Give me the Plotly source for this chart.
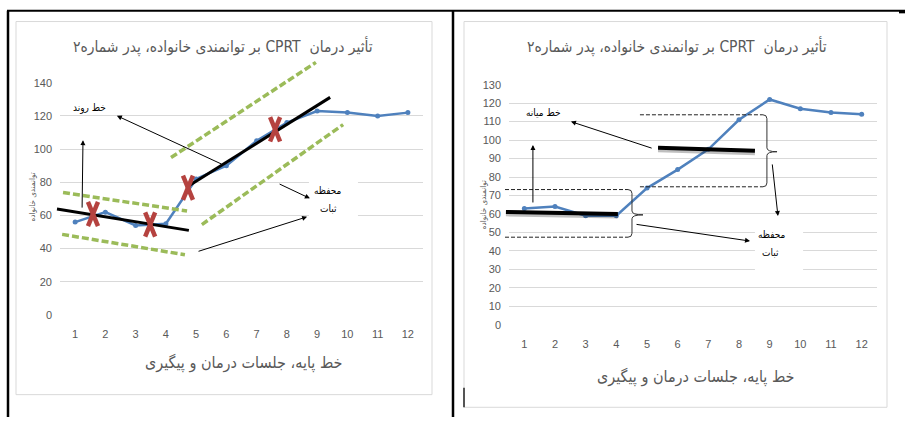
import plotly.graph_objects as go

W, H = 905, 423

# ---------------- data ----------------
sessions = list(range(1, 13))
tick_labels = [str(s) for s in sessions]
left_values = [56, 62, 54, 55, 82, 90, 105, 116, 123, 122, 120, 122]
right_values = [63, 64, 59, 59, 74, 84, 95, 111, 122, 117, 115, 114]
left_yticks = list(range(0, 141, 20))
right_yticks = list(range(0, 131, 10))

title_text = "\u202Bتأثیر درمان  CPRT بر توانمندی خانواده، پدر شماره۲\u202C"
xtitle_text = "خط پایه، جلسات درمان و پیگیری"
ytitle_text = "توانمندی خانواده"
trend_label = "خط روند"
median_label = "خط میانه"
envelope_line1 = "محفظه"
envelope_line2 = "ثبات"

# hand-drawn overlay geometry, in (session, value) units of each panel
left_trend_lines = [((0.40, 63.9), (4.76, 51.0)), ((4.76, 77.9), (9.43, 131.2))]
left_envelopes = [((0.60, 73.8), (4.70, 62.7)), ((0.57, 48.6), (4.63, 36.3)),
                  ((4.17, 94.9), (8.96, 152.3)), ((5.19, 54.5), (9.86, 114.8))]
left_crosses = [(1.59, 60.9), (3.48, 54.5), (4.73, 76.7), (7.61, 111.9)]
left_arrows = [((1.23, 65.0), (1.26, 105.4)), ((5.89, 91.4), (2.38, 120.1)),
               ((7.71, 79.1), (8.76, 70.3)), ((5.03, 38.7), (8.67, 59.2))]
left_trend_label_pos = (1.46, 124.8)
left_env_label_pos = [(9.36, 75.0), (9.36, 64.4)]
left_label_box = ((8.73, 83.2), (10.35, 56.2))

right_median_lines = [((0.40, 61.1), (4.05, 60.0)), ((5.36, 95.8), (8.52, 94.2))]
# x_start, x_brace, x_tip, v_top, v_mid, v_bot
right_brackets = [(0.37, 4.51, 4.87, 73.2, 59.5, 47.4), (4.77, 8.91, 9.24, 113.7, 93.7, 74.7)]
right_arrows = [((1.28, 66.3), (1.28, 97.4)), ((5.20, 95.8), (2.52, 110.0)),
                ((9.08, 86.8), (9.27, 58.9)), ((4.61, 54.2), (8.36, 45.3))]
right_median_label_pos = (1.64, 114.7)
right_env_label_pos = [(9.08, 48.9), (9.04, 38.9)]
right_label_box = ((8.52, 55.8), (10.09, 26.8))

# ---------------- layout geometry ----------------
panels = {
    "L": dict(xa="x", ya="y", dom_x=(60 / W, 423 / W), dom_y=(1 - 318 / H, 1 - 79 / H),
              xr=(0.5, 12.5), yr=(0, 140)),
    "R": dict(xa="x2", ya="y2", dom_x=(509 / W, 877 / W), dom_y=(1 - 328 / H, 1 - 81 / H),
              xr=(0.5, 12.5), yr=(0, 130)),
}


def P(panel, x, v):
    p = panels[panel]
    dx0, dx1 = p["dom_x"]
    dy0, dy1 = p["dom_y"]
    xr0, xr1 = p["xr"]
    yr0, yr1 = p["yr"]
    return (dx0 + (x - xr0) / (xr1 - xr0) * (dx1 - dx0),
            dy0 + (v - yr0) / (yr1 - yr0) * (dy1 - dy0))


def px(x, y):
    return x / W, 1 - y / H


GRAY = "#595959"
GRID = "#d9d9d9"
BLUE = "#4f81bd"
FA_FONT = "DejaVu Sans Condensed, DejaVu Sans, sans-serif"
NUM_FONT = "Liberation Sans Narrow, Liberation Sans, Arial, sans-serif"

fig = go.Figure()
fig.add_trace(go.Scatter(x=sessions, y=left_values, xaxis="x", yaxis="y", mode="lines+markers",
                         line=dict(color=BLUE, width=2.5), marker=dict(size=5, color=BLUE),
                         showlegend=False, hoverinfo="skip"))
fig.add_trace(go.Scatter(x=sessions, y=right_values, xaxis="x2", yaxis="y2", mode="lines+markers",
                         line=dict(color=BLUE, width=2.5), marker=dict(size=5, color=BLUE),
                         showlegend=False, hoverinfo="skip"))


def xaxis_cfg(p, anchor):
    return dict(domain=list(p["dom_x"]), range=list(p["xr"]), anchor=anchor,
                tickmode="array", tickvals=sessions, ticktext=tick_labels,
                showgrid=False, zeroline=False, showline=False, ticks="",
                tickfont=dict(family=NUM_FONT, size=11, color=GRAY), ticklabelstandoff=11,
                fixedrange=True)


def yaxis_cfg(p, anchor, ticks):
    return dict(domain=list(p["dom_y"]), range=list(p["yr"]), anchor=anchor,
                tickmode="array", tickvals=ticks, showgrid=True, gridcolor=GRID, gridwidth=1,
                zeroline=False, showline=False, ticks="",
                tickfont=dict(family=NUM_FONT, size=11, color=GRAY), ticklabelstandoff=7,
                fixedrange=True)


fig.update_layout(
    width=W, height=H, autosize=False,
    margin=dict(l=0, r=0, t=0, b=0, pad=0),
    paper_bgcolor="white", plot_bgcolor="white",
    xaxis=xaxis_cfg(panels["L"], "y"),
    yaxis=yaxis_cfg(panels["L"], "x", left_yticks),
    xaxis2=xaxis_cfg(panels["R"], "y2"),
    yaxis2=yaxis_cfg(panels["R"], "x2", right_yticks),
)

shapes = []
# chart frames (light gray)
shapes.append(dict(type="rect", xref="paper", yref="paper", x0=16 / W, x1=432 / W, y0=1 - 400 / H,
                   y1=1 - 16 / H, line=dict(color="#d9d9d9", width=1), layer="below"))
shapes.append(dict(type="rect", xref="paper", yref="paper", x0=464 / W, x1=887 / W, y0=1 - 413 / H,
                   y1=1 - 16 / H, line=dict(color="#d9d9d9", width=1), layer="below"))
# table borders
for (x0, y0, x1, y1, w) in [(7, 5, 905, 5, 2), (8, 5, 8, 423, 2.5), (453, 5, 453, 423, 2.5),
                            (899, 6, 905, 6, 3)]:
    a, b = px(x0, y0)
    c, d = px(x1, y1)
    shapes.append(dict(type="line", xref="paper", yref="paper", x0=a, y0=b, x1=c, y1=d,
                       line=dict(color="black", width=w)))
a, b = px(464, 393)
c, d = px(464, 413)
shapes.append(dict(type="line", xref="paper", yref="paper", x0=a, y0=b, x1=c, y1=d,
                   line=dict(color="#555555", width=2)))

# white label boxes that hide grid lines
for panel, box in (("L", left_label_box), ("R", right_label_box)):
    a, b = P(panel, *box[0])
    c, d = P(panel, *box[1])
    shapes.append(dict(type="rect", xref="paper", yref="paper", x0=a, y0=d, x1=c, y1=b,
                       fillcolor="white", line=dict(width=0)))

# left: green envelopes
for s, e in left_envelopes:
    a, b = P("L", *s)
    c, d = P("L", *e)
    shapes.append(dict(type="line", xref="paper", yref="paper", x0=a, y0=b, x1=c, y1=d,
                       line=dict(color="#9bbb59", width=3.5, dash="7px,3px")))
# left: trend lines
for s, e in left_trend_lines:
    a, b = P("L", *s)
    c, d = P("L", *e)
    shapes.append(dict(type="line", xref="paper", yref="paper", x0=a, y0=b, x1=c, y1=d,
                       line=dict(color="black", width=3)))
# left: red crosses
hx, hy = 5 / W, 12.5 / H
for cx, cv in left_crosses:
    a, b = P("L", cx, cv)
    for sgn in (1, -1):
        shapes.append(dict(type="line", xref="paper", yref="paper",
                           x0=a - hx, y0=b + sgn * hy, x1=a + hx, y1=b - sgn * hy,
                           line=dict(color="#b5423f", width=4.5)))

# right: brackets
r = 4
for xs, xb, xt, vt, vm, vb in right_brackets:
    x_s, y_t = P("R", xs, vt)
    x_b, y_m = P("R", xb, vm)
    x_t, _ = P("R", xt, vm)
    _, y_b = P("R", xb, vb)
    rx, ry = r / W, r / H
    for yy in (y_t, y_b):
        shapes.append(dict(type="line", xref="paper", yref="paper", x0=x_s, y0=yy, x1=x_b - rx, y1=yy,
                           line=dict(color="#222222", width=1, dash="4px,2px")))
    path = (f"M {x_b - rx},{y_t} Q {x_b},{y_t} {x_b},{y_t - ry} L {x_b},{y_m + ry} "
            f"Q {x_b},{y_m} {x_t},{y_m} Q {x_b},{y_m} {x_b},{y_m - ry} L {x_b},{y_b + ry} "
            f"Q {x_b},{y_b} {x_b - rx},{y_b}")
    shapes.append(dict(type="path", xref="paper", yref="paper", path=path,
                       line=dict(color="#333333", width=1)))
# right: median lines with soft shadow
for s, e in right_median_lines:
    a, b = P("R", *s)
    c, d = P("R", *e)
    shapes.append(dict(type="line", xref="paper", yref="paper", x0=a, y0=b - 1.5 / H, x1=c,
                       y1=d - 1.5 / H, line=dict(color="rgba(0,0,0,0.25)", width=6)))
    shapes.append(dict(type="line", xref="paper", yref="paper", x0=a, y0=b, x1=c, y1=d,
                       line=dict(color="black", width=4)))

fig.update_layout(shapes=shapes)

# arrows
for panel, arrows in (("L", left_arrows), ("R", right_arrows)):
    for tail, head in arrows:
        hx_, hy_ = P(panel, *head)
        tx_, ty_ = P(panel, *tail)
        fig.add_annotation(x=hx_, y=hy_, xref="paper", yref="paper",
                           ax=(tx_ - hx_) * W, ay=-(ty_ - hy_) * H, axref="pixel", ayref="pixel",
                           text="", showarrow=True, arrowhead=2, arrowsize=1, arrowwidth=1,
                           arrowcolor="black", standoff=0, startstandoff=0)


def label(x, y, text, size, color="black", angle=0, family=FA_FONT):
    fig.add_annotation(x=x, y=y, xref="paper", yref="paper", text=text, showarrow=False,
                       textangle=angle, xanchor="center", yanchor="middle",
                       font=dict(family=family, size=size, color=color))


# small labels
a, b = P("L", *left_trend_label_pos)
label(a, b, trend_label, 10)
for pos, t in zip(left_env_label_pos, (envelope_line1, envelope_line2)):
    a, b = P("L", *pos)
    label(a, b, t, 10)
a, b = P("R", *right_median_label_pos)
label(a, b, median_label, 10)
for pos, t in zip(right_env_label_pos, (envelope_line1, envelope_line2)):
    a, b = P("R", *pos)
    label(a, b, t, 10)

# titles
label(*px(223, 42), title_text, 15.5, GRAY)
label(*px(677, 42), title_text, 15.5, GRAY)
label(*px(243, 367), xtitle_text, 16, GRAY)
label(*px(695, 382), xtitle_text, 16, GRAY)
label(*px(32, 197), ytitle_text, 8, GRAY, angle=-90)
label(*px(483, 205), ytitle_text, 8, GRAY, angle=-90)

fig.write_html("out.html", config=dict(displayModeBar=False),
               post_script="document.body.style.margin='0px';document.body.style.overflow='hidden';")
